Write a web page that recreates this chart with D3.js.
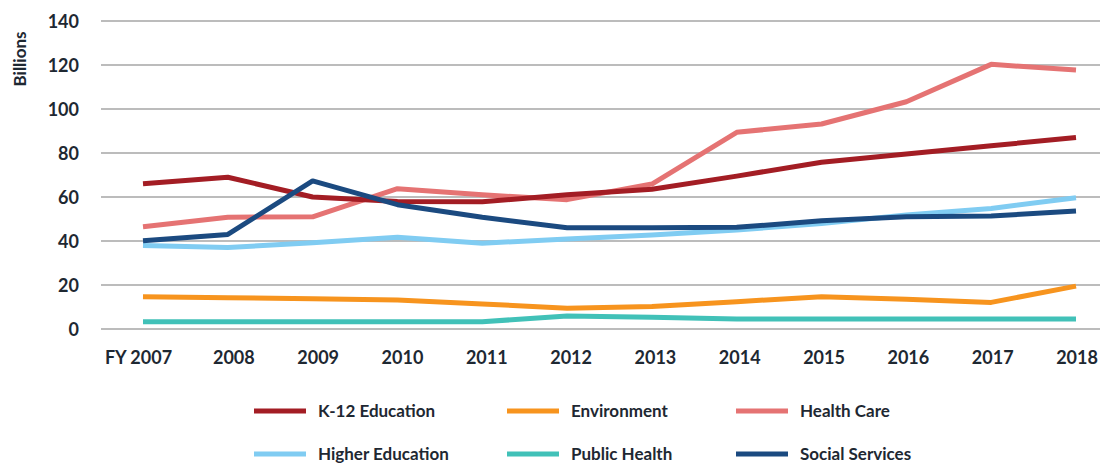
<!DOCTYPE html>
<html>
<head>
<meta charset="utf-8">
<script src="https://cdn.jsdelivr.net/npm/d3@7"></script>
<style>
  body { margin: 0; background: #fff; }
  text { font-family: Lato, "Open Sans", sans-serif; font-weight: bold; fill: #1e2832; }
</style>
</head>
<body>
<div id="chart"></div>
<script>
// data (billions)
var years = ["FY 2007", "2008", "2009", "2010", "2011", "2012", "2013", "2014", "2015", "2016", "2017", "2018"]
var k12 = [66, 69, 60, 58, 57.8, 61, 63.5, 69.5, 75.8, 79.5, 83.3, 87]
var environment = [14.7, 14.2, 13.8, 13.2, 11.4, 9.4, 10.2, 12.4, 14.7, 13.5, 12.1, 19.5]
var healthCare = [46.5, 50.8, 51, 63.8, 61, 58.8, 65.9, 89.4, 93.2, 103.3, 120.3, 117.7]
var higherEd = [37.9, 37, 39.2, 41.7, 39, 40.9, 42.7, 45, 48, 51.8, 54.8, 59.7]
var publicHealth = [3.3, 3.3, 3.3, 3.3, 3.3, 5.9, 5.3, 4.5, 4.5, 4.5, 4.5, 4.5]
var socialServices = [40.1, 43, 67.3, 56.5, 50.8, 46, 46, 46.2, 49.2, 51, 51.4, 53.6]
var yTicks = [0, 20, 40, 60, 80, 100, 120, 140]

var series = [
	{name: "K-12 Education", values: k12, colour: "#a31d24"},
	{name: "Environment", values: environment, colour: "#f7941e"},
	{name: "Health Care", values: healthCare, colour: "#e57373"},
	{name: "Higher Education", values: higherEd, colour: "#80ccf2"},
	{name: "Public Health", values: publicHealth, colour: "#41c1b8"},
	{name: "Social Services", values: socialServices, colour: "#1b4a80"}
]
// drawing order: back to front
var drawOrder = [3, 1, 4, 2, 0, 5]

var width = 1101, height = 464;
var plot = {left: 101, right: 1100, top: 21, bottom: 329};

var svg = d3.select("#chart").append("svg")
	.attr("width", width)
	.attr("height", height);

var x = d3.scalePoint()
	.domain(years)
	.range([143, 1076]);

var y = d3.scaleLinear()
	.domain([0, 140])
	.range([plot.bottom, plot.top]);

// gridlines
svg.append("g")
	.selectAll("line")
	.data(yTicks)
	.enter().append("line")
	.attr("x1", plot.left)
	.attr("x2", plot.right)
	.attr("y1", function(d){ return y(d) })
	.attr("y2", function(d){ return y(d) })
	.attr("stroke", "#a6a6a6")
	.attr("stroke-width", 1.5);

// y axis labels
var yAxis = svg.append("g")
	.attr("transform", "translate(" + (plot.left - 22) + ",0)")
	.call(d3.axisLeft(y).tickValues(yTicks).tickSize(0).tickPadding(0));
yAxis.select(".domain").remove();
yAxis.selectAll("text")
	.attr("font-size", 18)
	.attr("dy", "0.36em");

// x axis labels
var xAxis = svg.append("g")
	.attr("transform", "translate(0," + plot.bottom + ")")
	.call(d3.axisBottom(x).tickSize(0).tickPadding(0));
xAxis.select(".domain").remove();
xAxis.selectAll("text")
	.attr("font-size", 18)
	.attr("y", 29)
	.attr("dy", "0.36em")
	.attr("dx", function(d, i){ return i == 0 ? -5 : 6 - i * 0.5 });

d3.selectAll(".tick text").style("font-family", "Lato, sans-serif").style("font-weight", "bold").attr("fill", "#1e2832");

svg.append("text")
	.attr("transform", "translate(19.5,59) rotate(-90)")
	.attr("text-anchor", "middle")
	.attr("dy", "0.36em")
	.attr("font-size", 17)
	.text("Billions");

var line = d3.line()
	.x(function(d, i){ return x(years[i]) })
	.y(function(d){ return y(d) });

drawOrder.forEach(function(k){
	svg.append("path")
		.datum(series[k].values)
		.attr("d", line)
		.attr("fill", "none")
		.attr("stroke", series[k].colour)
		.attr("stroke-width", 5)
		.attr("stroke-linejoin", "round");
});

// legend
var legendCols = [254, 507, 736];
var legendRows = [411, 454];
var legend = svg.selectAll("g.legend")
	.data(series)
	.enter().append("g")
	.attr("class", "legend")
	.attr("transform", function(d, i){
		return "translate(" + legendCols[i % 3] + "," + legendRows[Math.floor(i / 3)] + ")"
	});

legend.append("line")
	.attr("x1", 0)
	.attr("x2", 52)
	.attr("stroke", function(d){ return d.colour })
	.attr("stroke-width", 5);

legend.append("text")
	.attr("x", 64)
	.attr("dy", "0.36em")
	.attr("font-size", 17)
	.text(function(d){ return d.name });
</script>
</body>
</html>
